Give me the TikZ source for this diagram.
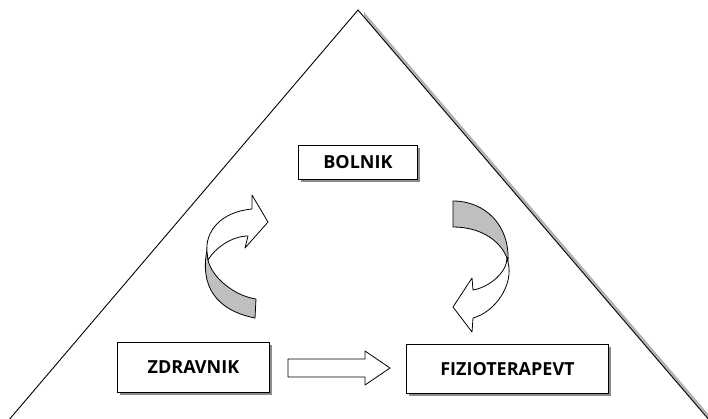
\documentclass[tikz,border=0pt]{standalone}
\usepackage{fontspec}
\setmainfont{Open Sans}
\usetikzlibrary{shadows}
\tikzset{
  lbl/.style={draw=black, line width=0.9pt, fill=white, font=\bfseries\fontsize{18}{20}\selectfont,
    inner sep=0pt, anchor=north west, drop shadow={shadow xshift=2.5pt, shadow yshift=-2.5pt, fill=black!45, opacity=1}},
  ribbon/.style={draw=black, line width=0.8pt, line join=round},
}
\begin{document}
\begin{tikzpicture}[x=1pt,y=-1pt]
\useasboundingbox (0,0) rectangle (708,418);
% triangle shadow and triangle
\fill[black!30] (364,12) -- (716,423) -- (360,423) -- cycle;
\draw[line width=0.9pt, fill=white] (358,10) coordinate (apex) -- (710,421) coordinate (br) -- (8,421) coordinate (bl) -- cycle;
% boxes
\node[lbl, minimum width=119pt, minimum height=34pt] (bolnik) at (298,145) {BOLNIK};
\node[lbl, minimum width=152pt, minimum height=50pt] (zdravnik) at (117,342) {ZDRAVNIK};
\node[lbl, minimum width=202pt, minimum height=49pt] (fizio) at (406,344) {FIZIOTERAPEVT};
% straight block arrow
\draw[ribbon, fill=white] (288,359) -- (365,359) -- (365,351) -- (390,368) -- (365,385) -- (365,377) -- (288,377) -- cycle;
% left curved arrow
\draw[ribbon, fill=black!25] (207,250) .. controls (200,285) and (215,310) .. (255,318) -- (256,299) .. controls (235,296) and (212,278) .. (208,260) -- cycle;
\draw[ribbon, fill=white] (207,252) .. controls (205,232) and (220,212) .. (252,209) -- (252,195) -- (268,222) -- (245,248) -- (248,236) .. controls (232,236) and (215,248) .. (208,260) -- cycle;
% right curved arrow
\draw[ribbon, fill=black!25] (453,201) .. controls (485,201) and (510,225) .. (508,262) -- (507,258) .. controls (500,240) and (480,227) .. (453,227) -- cycle;
\draw[ribbon, fill=white] (508,262) .. controls (514,285) and (495,312) .. (473,318) -- (472,332) -- (453,307) -- (472,278) -- (473,290) .. controls (490,287) and (507,272) .. (507,258) -- cycle;
\end{tikzpicture}
\end{document}
